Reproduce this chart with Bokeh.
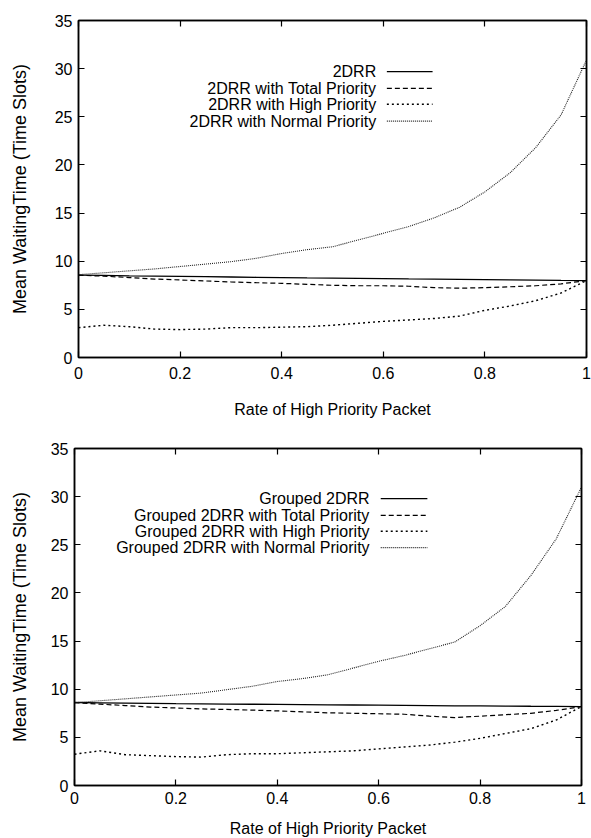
from bokeh.plotting import figure
from bokeh.layouts import column, row
from bokeh.models import LinearAxis, FixedTicker, Label, Arrow, Range1d
from bokeh.embed import file_html
from bokeh.resources import INLINE

# ---------------- data ----------------
RATE = [0.0, 0.05, 0.1, 0.15, 0.2, 0.25, 0.3, 0.35, 0.4, 0.45, 0.5,
        0.55, 0.6, 0.65, 0.7, 0.75, 0.8, 0.85, 0.9, 0.95, 1.0]

TOP_ALL = [8.55, 8.52, 8.48, 8.45, 8.42, 8.39, 8.36, 8.33, 8.30, 8.27, 8.25,
           8.22, 8.19, 8.16, 8.14, 8.11, 8.09, 8.06, 8.04, 8.01, 7.99]
TOP_TOTAL = [8.55, 8.45, 8.3, 8.15, 8.05, 7.95, 7.85, 7.77, 7.7, 7.6, 7.5,
             7.45, 7.45, 7.4, 7.25, 7.2, 7.25, 7.35, 7.45, 7.65, 7.99]
TOP_HIGH = [3.1, 3.35, 3.2, 2.95, 2.9, 2.95, 3.1, 3.1, 3.15, 3.2, 3.35,
            3.55, 3.75, 3.9, 4.05, 4.3, 4.9, 5.35, 5.9, 6.7, 7.99]
TOP_NORMAL = [8.6, 8.8, 9.0, 9.2, 9.45, 9.7, 9.95, 10.3, 10.8, 11.2, 11.5,
              12.2, 12.9, 13.6, 14.5, 15.6, 17.2, 19.2, 21.8, 25.2, 30.9]

BOT_ALL = [8.62, 8.59, 8.56, 8.53, 8.5, 8.48, 8.46, 8.44, 8.42, 8.4, 8.38,
           8.36, 8.34, 8.32, 8.3, 8.28, 8.27, 8.25, 8.23, 8.22, 8.2]
BOT_TOTAL = [8.6, 8.45, 8.3, 8.15, 8.05, 7.95, 7.9, 7.83, 7.75, 7.65, 7.55,
             7.5, 7.45, 7.4, 7.2, 7.05, 7.2, 7.35, 7.5, 7.8, 8.2]
BOT_HIGH = [3.25, 3.6, 3.2, 3.1, 3.0, 2.95, 3.2, 3.3, 3.3, 3.4, 3.5,
            3.6, 3.8, 4.0, 4.2, 4.5, 4.9, 5.4, 5.9, 6.8, 8.2]
BOT_NORMAL = [8.6, 8.8, 9.0, 9.2, 9.4, 9.6, 9.95, 10.3, 10.8, 11.1, 11.5,
              12.2, 12.9, 13.5, 14.2, 14.9, 16.6, 18.6, 21.8, 25.6, 31.0]

TOP_LABELS = ["2DRR", "2DRR with Total Priority", "2DRR with High Priority",
              "2DRR with Normal Priority"]
BOT_LABELS = ["Grouped 2DRR", "Grouped 2DRR with Total Priority",
              "Grouped 2DRR with High Priority", "Grouped 2DRR with Normal Priority"]

X_TICKS = [0, 0.2, 0.4, 0.6, 0.8, 1]
X_TICK_LABELS = ["0", "0.2", "0.4", "0.6", "0.8", "1"]
Y_TICKS = [0, 5, 10, 15, 20, 25, 30, 35]
Y_TICK_LABELS = ["0", "5", "10", "15", "20", "25", "30", "35"]

X_TITLE = "Rate of High Priority Packet"
Y_TITLE = "Mean WaitingTime (Time Slots)"

FONT = "Liberation Sans"
STYLES = [
    dict(line_dash="solid", line_width=1.3, line_color="black"),
    dict(line_dash="5 3", line_width=1.2, line_color="black"),
    dict(line_dash="2 3", line_width=1.4, line_color="black"),
    dict(line_dash="1 1", line_width=1.1, line_color="#222222"),
]


def make_plot(series, labels, fw, fh, bl, br, bt, bb, xls, xas, yas,
              leg_x, leg_x0, leg_x1, leg_y):
    p = figure(frame_width=fw, frame_height=fh, output_backend="svg",
               toolbar_location=None,
               x_range=Range1d(0, 1), y_range=Range1d(0, 35),
               min_border_left=bl, min_border_right=br, min_border_top=bt,
               min_border_bottom=bb, background_fill_color="white",
               border_fill_color="white")
    p.grid.visible = False
    p.outline_line_color = "black"
    p.outline_line_width = 1.5

    for ys, st in zip(series, STYLES):
        p.line(RATE, ys, **st)

    xa = p.xaxis[0]
    ya = p.yaxis[0]
    xa.ticker = FixedTicker(ticks=X_TICKS)
    ya.ticker = FixedTicker(ticks=Y_TICKS)
    xa.major_label_overrides = dict(zip(X_TICKS, X_TICK_LABELS))
    ya.major_label_overrides = dict(zip(Y_TICKS, Y_TICK_LABELS))
    for ax in (xa, ya):
        ax.major_tick_in = 6
        ax.major_tick_out = 0
        ax.minor_tick_in = 0
        ax.minor_tick_out = 0
        ax.axis_line_color = "black"
        ax.axis_line_width = 1.5
        ax.major_tick_line_width = 1.2
        ax.major_label_text_font = FONT
        ax.major_label_text_font_size = "16px"
        ax.major_label_text_color = "black"
        ax.axis_label_text_font = FONT
        ax.axis_label_text_font_style = "normal"
        ax.axis_label_text_color = "black"
    xa.axis_label = X_TITLE
    xa.axis_label_text_font_size = "16px"
    xa.major_label_standoff = xls
    xa.axis_label_standoff = xas
    ya.axis_label = Y_TITLE
    ya.axis_label_text_font_size = "18px"
    ya.major_label_standoff = 6
    ya.axis_label_standoff = yas

    # mirrored ticks on top and right (gnuplot style box)
    for loc, ticks in (("above", X_TICKS), ("right", Y_TICKS)):
        ax = LinearAxis(ticker=FixedTicker(ticks=ticks))
        ax.major_label_overrides = {t: "" for t in ticks}
        ax.major_tick_in = 6
        ax.major_tick_out = 0
        ax.minor_tick_in = 0
        ax.minor_tick_out = 0
        ax.major_label_standoff = 0
        ax.axis_line_width = 1.5
        ax.major_tick_line_width = 1.2
        p.add_layout(ax, loc)

    for lab, yy, st in zip(labels, leg_y, STYLES):
        p.add_layout(Label(x=leg_x, y=yy, text=lab, text_align="right",
                           text_baseline="middle", text_font=FONT,
                           text_font_size="16px", text_color="black"))
        p.add_layout(Arrow(x_start=leg_x0, y_start=yy, x_end=leg_x1, y_end=yy,
                           end=None, start=None, **st))
    return p


p1 = make_plot([TOP_ALL, TOP_TOTAL, TOP_HIGH, TOP_NORMAL], TOP_LABELS,
               fw=508, fh=337, bl=78, br=5, bt=20, bb=63, xls=9, xas=19, yas=22,
               leg_x=0.586, leg_x0=0.607, leg_x1=0.697,
               leg_y=[29.7, 27.95, 26.3, 24.55])
p2 = make_plot([BOT_ALL, BOT_TOTAL, BOT_HIGH, BOT_NORMAL], BOT_LABELS,
               fw=507, fh=337, bl=74, br=10, bt=28, bb=52, xls=6, xas=13, yas=18,
               leg_x=0.582, leg_x0=0.604, leg_x1=0.696,
               leg_y=[29.8, 28.05, 26.4, 24.7])

layout = column(row(p1), row(p2), spacing=0)
open("out.html", "w").write(file_html(layout, INLINE))
